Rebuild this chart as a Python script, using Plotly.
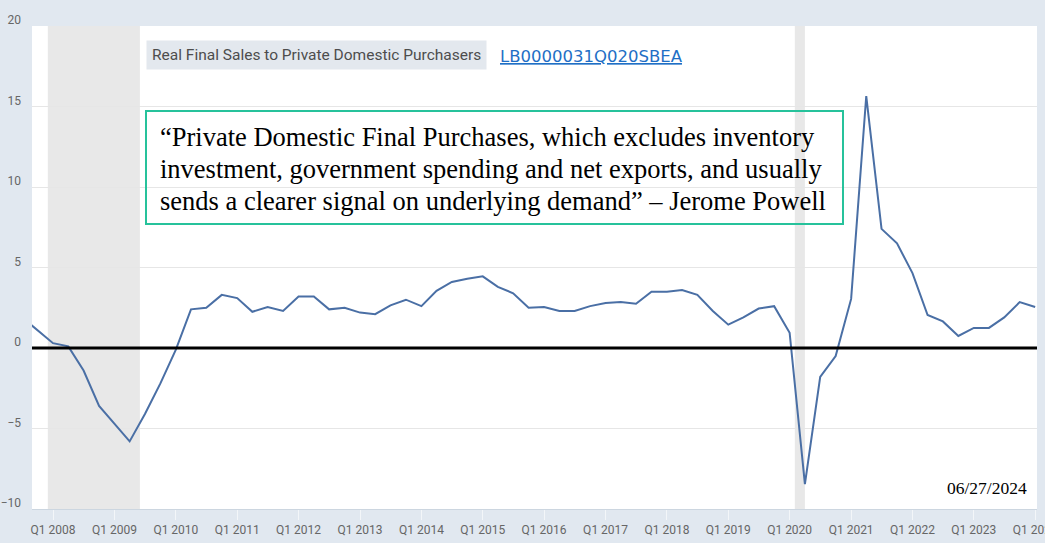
import pandas as pd
import plotly.graph_objects as go

# ---- data ----
start_quarter = "2007Q3"
end_quarter = "2024Q1"
values = [
    1.9, 1.1,                       # 2007 Q3-Q4
    0.3, 0.1, -1.4, -3.6,           # 2008
    -4.7, -5.8, -4.1, -2.2,         # 2009
    -0.1, 2.4, 2.5, 3.3,            # 2010
    3.1, 2.25, 2.55, 2.3,           # 2011
    3.2, 3.2, 2.4, 2.5,             # 2012
    2.2, 2.1, 2.65, 3.0,            # 2013
    2.6, 3.55, 4.1, 4.3,            # 2014
    4.45, 3.8, 3.4, 2.5,            # 2015
    2.55, 2.3, 2.3, 2.6,            # 2016
    2.8, 2.85, 2.75, 3.5,           # 2017
    3.5, 3.6, 3.3, 2.3,             # 2018
    1.45, 1.9, 2.45, 2.6,           # 2019
    0.95, -8.45, -1.8, -0.5,        # 2020
    3.05, 15.65, 7.4, 6.5,          # 2021
    4.65, 2.05, 1.65, 0.75,         # 2022
    1.25, 1.25, 1.9, 2.85,          # 2023
    2.55,                           # 2024 Q1
]
dates = pd.period_range(start_quarter, end_quarter, freq="Q").to_timestamp()

recessions = [("2007-12-01", "2009-06-01"), ("2020-02-01", "2020-04-01")]
y_ticks = [-10, -5, 0, 5, 10, 15, 20]

title_text = "Real Final Sales to Private Domestic Purchasers"
series_id = "LB0000031Q020SBEA"
quote_lines = [
    "\u201cPrivate Domestic Final Purchases, which excludes inventory",
    "investment, government spending and net exports, and usually",
    "sends a clearer signal on underlying demand\u201d \u2013 Jerome Powell",
]
date_stamp = "06/27/2024"

# ---- figure ----
W, H = 1045, 543
ML, MR, MT, MB = 32, 8, 26, 34
pw, ph = W - ML - MR, H - MT - MB


def px_x(p):
    return (p - ML) / pw


def px_y(p):
    return (H - MB - p) / ph


fig = go.Figure()
fig.add_trace(go.Scatter(
    x=dates, y=values, mode="lines",
    line=dict(color="#4a6fa5", width=2),
    hoverinfo="skip", showlegend=False,
))

shapes = []
for a, b in recessions:
    shapes.append(dict(type="rect", xref="x", yref="paper", x0=a, x1=b, y0=0, y1=1,
                       fillcolor="#e8e8e8", line=dict(width=0), layer="between"))
shapes.append(dict(type="line", xref="paper", yref="y", x0=0, x1=1, y0=0, y1=0,
                   line=dict(color="black", width=3), layer="above"))
# quote frame
shapes.append(dict(type="rect", xref="paper", yref="paper",
                   x0=px_x(146), x1=px_x(843), y0=px_y(224), y1=px_y(111),
                   fillcolor="rgba(0,0,0,0)", line=dict(color="#26c29b", width=2),
                   layer="above"))

annotations = [
    dict(xref="paper", yref="paper", x=px_x(146), y=px_y(55), xanchor="left", yanchor="middle",
         text=title_text, showarrow=False, bgcolor="#e3e8ee", borderpad=5,
         font=dict(family="Roboto", size=15.5, color="#4d4d4d")),
    dict(xref="paper", yref="paper", x=px_x(498), y=px_y(56), xanchor="left", yanchor="middle",
         text="<u>" + series_id + "</u>", showarrow=False,
         font=dict(family="DejaVu Sans", size=16.5, color="#1f6fc5")),
    dict(xref="paper", yref="paper", x=px_x(1029), y=px_y(488), xanchor="right", yanchor="middle",
         text=date_stamp, showarrow=False,
         font=dict(family="Liberation Serif", size=17.5, color="black")),
]
for i, line in enumerate(quote_lines):
    annotations.append(dict(
        xref="paper", yref="paper", x=px_x(158), y=px_y(137 + 32 * i),
        xanchor="left", yanchor="middle", text=line, showarrow=False,
        font=dict(family="Liberation Serif", size=26.5, color="black")))

fig.update_layout(
    width=W, height=H,
    margin=dict(l=ML, r=MR, t=MT, b=MB, autoexpand=False),
    paper_bgcolor="#e1e8f0",
    plot_bgcolor="white",
    shapes=shapes,
    annotations=annotations,
    showlegend=False,
)
fig.update_xaxes(
    type="date", range=["2007-08-29", "2024-01-12"],
    tick0="2008-01-01", dtick="M12", tickformat="Q%q %Y",
    ticks="outside", ticklen=10, tickcolor="#f3f6f9", tickwidth=1,
    ticklabeloverflow="allow",
    showgrid=False, zeroline=False,
    showline=True, linecolor="#ccd6e0", linewidth=1,
    tickfont=dict(family="Roboto", size=12, color="#666666"),
)
fig.update_yaxes(
    range=[-10, 20], tickvals=y_ticks,
    showgrid=True, gridcolor="#e6e6e6", gridwidth=1, zeroline=False,
    ticks="", ticklabelshift=-6, ticklabelstandoff=10,
    tickfont=dict(family="Roboto", size=12, color="#666666"),
)

fig.write_html("out.html", config={"displayModeBar": False},
               post_script="document.body.style.margin='0';")
